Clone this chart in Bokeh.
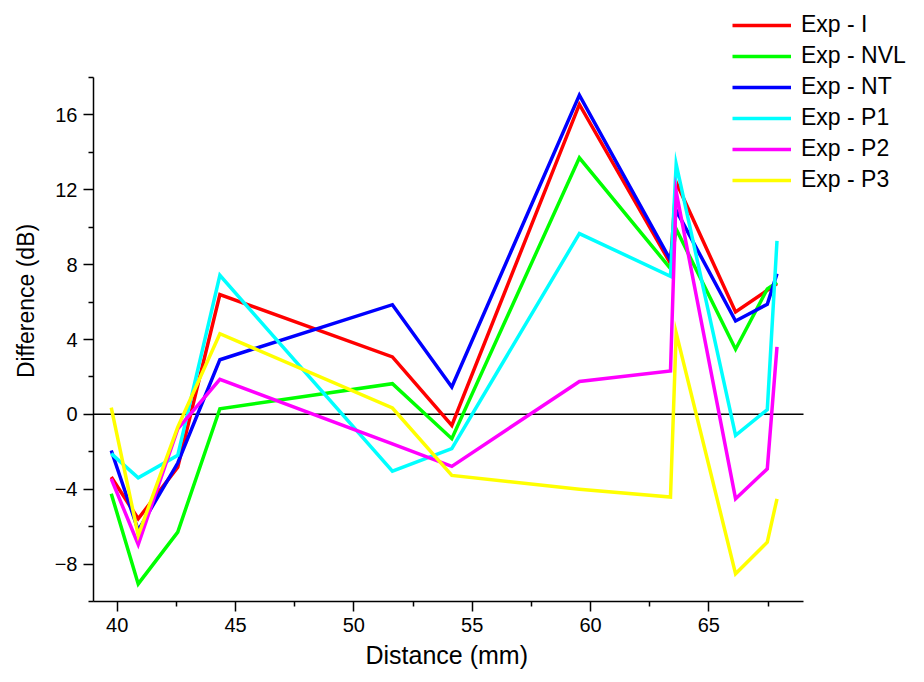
from bokeh.plotting import figure
from bokeh.models import Legend, LegendItem, FixedTicker, Range1d, Title
from bokeh.embed import file_html
from bokeh.resources import INLINE

# Data
distance = [39.75, 40.89, 42.56, 44.34, 51.63, 54.14, 59.53, 63.38, 63.62, 66.13, 67.47, 67.88]
exp_i   = [-3.35, -5.58, -2.82, 6.40, 3.07, -0.59, 16.56, 8.06, 12.40, 5.47, 6.63, 6.99]
exp_nvl = [-4.24, -9.06, -6.29, 0.30, 1.64, -1.30, 13.71, 7.79, 9.90, 3.48, 6.70, 7.05]
exp_nt  = [-1.93, -6.20, -2.60, 2.92, 5.86, 1.46, 17.06, 8.24, 10.90, 4.99, 5.88, 7.52]
exp_p1  = [-2.10, -3.39, -2.19, 7.43, -3.03, -1.83, 9.66, 7.38, 13.37, -1.12, 0.25, 9.27]
exp_p2  = [-3.44, -6.95, -0.78, 1.87, -1.58, -2.78, 1.76, 2.32, 11.90, -4.51, -2.91, 3.60]
exp_p3  = [0.36, -6.47, -0.68, 4.31, 0.34, -3.26, -4.00, -4.42, 4.35, -8.52, -6.83, -4.51]

series_labels = ["Exp - I", "Exp - NVL", "Exp - NT", "Exp - P1", "Exp - P2", "Exp - P3"]
series_values = [exp_i, exp_nvl, exp_nt, exp_p1, exp_p2, exp_p3]
series_colors = ["#FF0000", "#00FF00", "#0000FF", "#00FFFF", "#FF00FF", "#FFFF00"]

x_lo, x_hi = 39, 69
y_lo, y_hi = -10, 18
x_major = [40, 45, 50, 55, 60, 65]
x_minor = [42.5, 47.5, 52.5, 57.5, 62.5, 67.5]
y_major = [-8, -4, 0, 4, 8, 12, 16]
y_minor = [-10, -6, -2, 2, 6, 10, 14, 18]

FONT = "Liberation Sans"

# Axes occupy a 710x524 px region; the frame is extended up and right
# so the legend (which sits partly outside the axes box) is not clipped.
AX_W, AX_H = 710, 524
FRAME_W, FRAME_H = 831, 601
x_ext = x_lo + (x_hi - x_lo) * FRAME_W / AX_W
y_ext = y_lo + (y_hi - y_lo) * FRAME_H / AX_H

p = figure(frame_width=FRAME_W, frame_height=FRAME_H,
           min_border_left=93, min_border_right=0,
           min_border_top=0, min_border_bottom=81,
           x_range=Range1d(x_lo, x_ext), y_range=Range1d(y_lo, y_ext),
           output_backend="svg", toolbar_location=None,
           background_fill_color="white", border_fill_color="white")

p.outline_line_color = None
p.xgrid.visible = False
p.ygrid.visible = False

# zero reference line across the axes box
p.segment(x0=[x_lo], y0=[0], x1=[x_hi], y1=[0], line_color="black", line_width=1.5)

renderers = []
for vals, col in zip(series_values, series_colors):
    r = p.line(distance, vals, line_color=col, line_width=3.5, line_join="miter")
    renderers.append(r)

for ax in (p.xaxis[0], p.yaxis[0]):
    ax.axis_line_color = "black"
    ax.axis_line_width = 1.5
    ax.major_tick_line_color = "black"
    ax.major_tick_line_width = 1.5
    ax.minor_tick_line_color = "black"
    ax.minor_tick_line_width = 1.5
    ax.major_tick_in = 0
    ax.major_tick_out = 10
    ax.minor_tick_in = 0
    ax.minor_tick_out = 5
    ax.major_label_text_font = FONT
    ax.major_label_text_font_size = "20px"
    ax.major_label_text_color = "black"
    ax.axis_label_text_font = FONT
    ax.axis_label_text_font_style = "normal"
    ax.axis_label_text_color = "black"
    ax.major_label_standoff = 6

p.xaxis.bounds = (x_lo, x_hi)
p.yaxis.bounds = (y_lo, y_hi)
p.xaxis.ticker = FixedTicker(ticks=x_major, minor_ticks=x_minor)
p.yaxis.ticker = FixedTicker(ticks=y_major, minor_ticks=y_minor)
p.yaxis.axis_label = "Difference (dB)"
p.yaxis.axis_label_text_font_size = "23px"
p.yaxis.axis_label_standoff = 13

# x-axis title centred under the axes box (not the extended frame)
xtitle = Title(text="Distance (mm)", align="left", offset=272,
               text_font=FONT, text_font_size="25px", text_font_style="normal",
               text_color="black", standoff=9)
p.add_layout(xtitle, "below")

legend = Legend(
    items=[LegendItem(label=lab, renderers=[r]) for lab, r in zip(series_labels, renderers)],
    location=(639, 408),
    border_line_color=None,
    background_fill_alpha=0,
    label_text_font=FONT,
    label_text_font_size="23px",
    label_text_color="black",
    glyph_width=59, glyph_height=26, label_height=26,
    spacing=4, padding=4, margin=0, label_standoff=10,
)
p.add_layout(legend)

open("out.html", "w").write(file_html(p, INLINE))
